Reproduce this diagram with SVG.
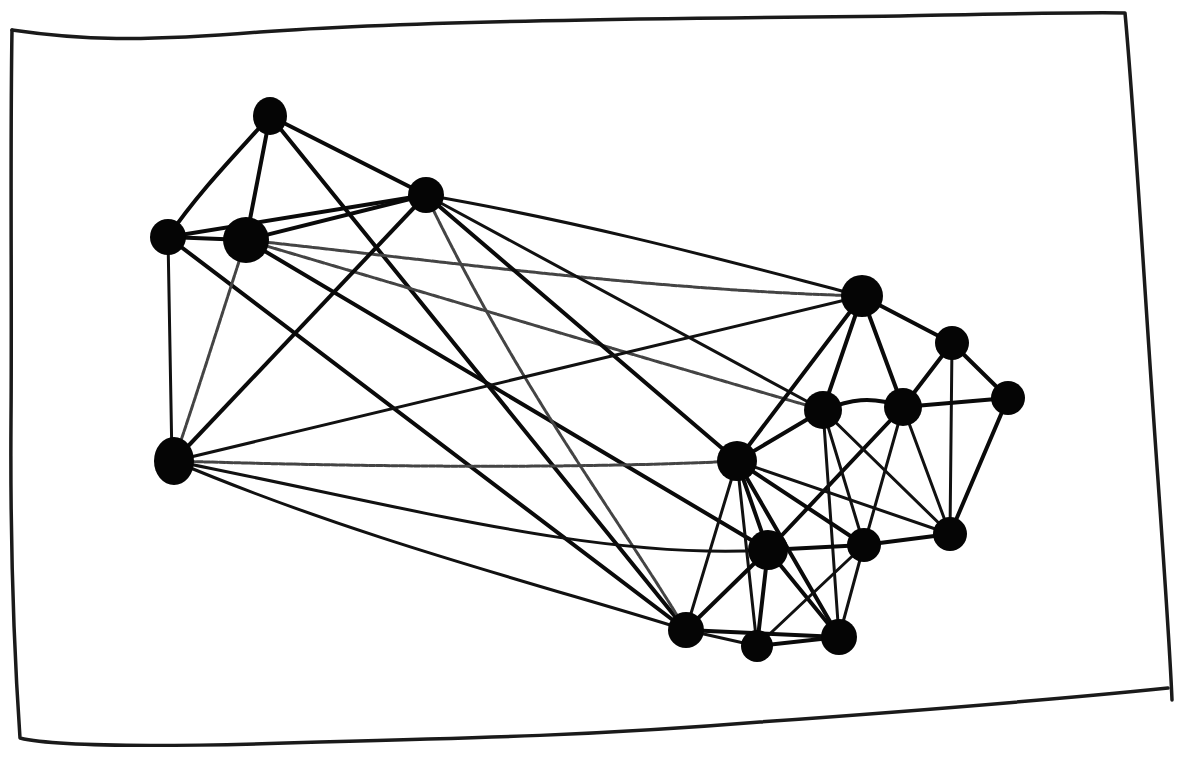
<svg xmlns="http://www.w3.org/2000/svg" width="1188" height="767" viewBox="0 0 1188 767">
<style>
.frame{fill:none;stroke:#1a1a1a;stroke-width:3.5;stroke-linecap:round;stroke-linejoin:round}
.e{fill:none;stroke:#0a0a0a;stroke-width:4;stroke-linecap:round}
.t{fill:none;stroke:#111;stroke-width:3;stroke-linecap:round}
.g{fill:none;stroke:#444;stroke-width:3;stroke-linecap:round;stroke-dasharray:6 1.5}
.n{fill:#050505}
</style>
<rect width="1188" height="767" fill="#ffffff"/>
<path class="frame" d="M12,30 C80,40 140,42 260,32 C420,20 700,18 900,16 C1000,14 1080,12 1125,13 C1135,120 1145,300 1158,480 C1165,580 1170,650 1172,700"/>
<path class="frame" d="M12,30 C10,150 12,300 11,420 C10,560 16,680 20,738 C60,748 200,746 320,742 C480,738 600,735 760,722 C900,712 1050,700 1168,688"/>
<g id="connectors">
<!-- left cluster -->
<path class="e" d="M270,116 C240,150 200,190 168,237"/>
<path class="e" d="M270,116 L246,240"/>
<path class="e" d="M270,116 L426,195"/>
<path class="e" d="M270,116 L686,630"/>
<path class="e" d="M168,237 L426,195"/>
<path class="e" d="M168,237 L246,240"/>
<path class="t" d="M168,237 L172,461"/>
<path class="e" d="M168,237 L686,630"/>
<path class="e" d="M246,240 L426,195"/>
<path class="g" d="M246,240 C220,320 195,400 174,461"/>
<path class="g" d="M246,240 C450,262 650,290 862,296"/>
<path class="g" d="M246,240 C450,300 650,360 823,410"/>
<path class="e" d="M246,240 L768,550"/>
<path class="e" d="M426,195 L174,461"/>
<path class="t" d="M426,195 C600,225 760,270 862,296"/>
<path class="t" d="M426,195 L823,410"/>
<path class="e" d="M426,195 L737,461"/>
<path class="g" d="M426,195 C520,390 620,520 686,630"/>
<path class="t" d="M174,461 L862,296"/>
<path class="g" d="M174,461 C400,468 600,468 737,461"/>
<path class="t" d="M174,461 C420,510 600,560 768,550"/>
<path class="t" d="M174,461 C360,540 560,590 686,630"/>
<!-- right cluster -->
<path class="e" d="M862,296 L952,343"/>
<path class="e" d="M862,296 L903,407"/>
<path class="e" d="M862,296 L823,410"/>
<path class="e" d="M862,296 L737,461"/>
<path class="e" d="M952,343 L1008,398"/>
<path class="e" d="M952,343 L903,407"/>
<path class="t" d="M952,343 L950,534"/>
<path class="e" d="M903,407 L1008,398"/>
<path class="e" d="M1008,398 L950,534"/>
<path class="e" d="M823,410 C850,400 870,395 903,407"/>
<path class="t" d="M903,407 L950,534"/>
<path class="t" d="M903,407 L864,545"/>
<path class="e" d="M903,407 L768,550"/>
<path class="e" d="M823,410 L737,461"/>
<path class="t" d="M823,410 L950,534"/>
<path class="t" d="M823,410 L864,545"/>
<path class="t" d="M823,410 L839,637"/>
<path class="t" d="M737,461 L950,534"/>
<path class="e" d="M737,461 L864,545"/>
<path class="e" d="M737,461 L768,550"/>
<path class="t" d="M737,461 L686,630"/>
<path class="e" d="M737,461 L839,637"/>
<path class="t" d="M737,461 L757,646"/>
<path class="e" d="M768,550 L864,545"/>
<path class="e" d="M768,550 L686,630"/>
<path class="e" d="M768,550 L757,646"/>
<path class="e" d="M768,550 L839,637"/>
<path class="e" d="M864,545 L950,534"/>
<path class="t" d="M864,545 L839,637"/>
<path class="t" d="M864,545 L757,646"/>
<path class="e" d="M686,630 L839,637"/>
<path class="t" d="M686,630 L757,646"/>
<path class="e" d="M757,646 L839,637"/>
</g>
<g id="nA"><ellipse class="n" cx="270" cy="116" rx="17" ry="19"/></g>
<g id="nB"><circle class="n" cx="426" cy="195" r="18"/></g>
<g id="nC"><circle class="n" cx="168" cy="237" r="18"/></g>
<g id="nD"><circle class="n" cx="246" cy="240" r="23"/></g>
<g id="nE"><ellipse class="n" cx="174" cy="461" rx="20" ry="24"/></g>
<g id="nF"><circle class="n" cx="862" cy="296" r="21"/></g>
<g id="nG"><circle class="n" cx="952" cy="343" r="17"/></g>
<g id="nH"><circle class="n" cx="1008" cy="398" r="17"/></g>
<g id="nI"><circle class="n" cx="903" cy="407" r="19"/></g>
<g id="nJ"><circle class="n" cx="823" cy="410" r="19"/></g>
<g id="nK"><circle class="n" cx="737" cy="461" r="20"/></g>
<g id="nL"><circle class="n" cx="950" cy="534" r="17"/></g>
<g id="nM"><circle class="n" cx="864" cy="545" r="17"/></g>
<g id="nN"><circle class="n" cx="768" cy="550" r="20"/></g>
<g id="nO"><circle class="n" cx="686" cy="630" r="18"/></g>
<g id="nP"><circle class="n" cx="757" cy="646" r="16"/></g>
<g id="nQ"><circle class="n" cx="839" cy="637" r="18"/></g>
</svg>
